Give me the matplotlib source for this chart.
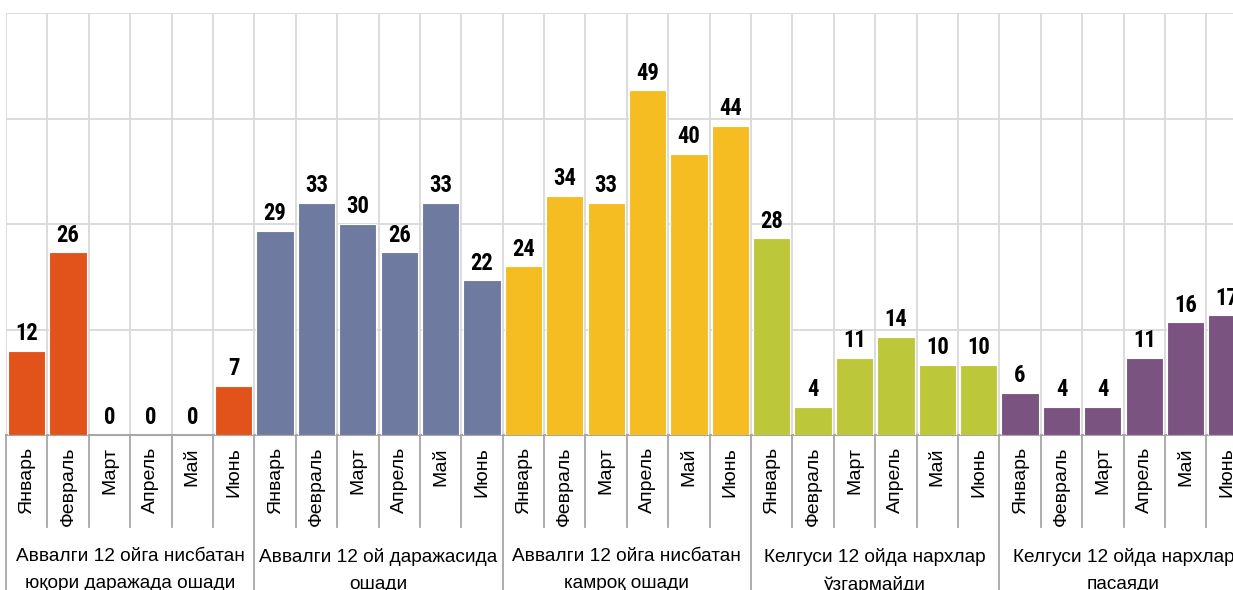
import matplotlib
matplotlib.use('Agg')
import matplotlib.pyplot as plt
from matplotlib import font_manager
import numpy as np

# Data
months = ['Январь', 'Февраль', 'Март', 'Апрель', 'Май', 'Июнь']
groups = [
    'Аввалги 12 ойга нисбатан\nюқори даражада ошади',
    'Аввалги 12 ой даражасида\nошади',
    'Аввалги 12 ойга нисбатан\nкамроқ ошади',
    'Келгуси 12 ойда нархлар\nўзгармайди',
    'Келгуси 12 ойда нархлар\nпасаяди',
]
higher = [12, 26, 0, 0, 0, 7]
same = [29, 33, 30, 26, 33, 22]
lower = [24, 34, 33, 49, 40, 44]
unchanged = [28, 4, 11, 14, 10, 10]
decrease = [6, 4, 4, 11, 16, 17]
series = [higher, same, lower, unchanged, decrease]
colors = ['#E2531B', '#6F7AA0', '#F5BD22', '#BDC73A', '#7A5380']

fonts = font_manager.fontManager.ttflist
names = {f.name for f in fonts}
base_font = 'Liberation Sans' if 'Liberation Sans' in names else 'DejaVu Sans'

# value labels use a narrow bold face when one is installed
num_font, num_stretch, num_size = base_font, 'normal', 14
for cand in ['Liberation Sans Narrow', 'Arial Narrow', 'Roboto Condensed']:
    if cand in names:
        num_font, num_size = cand, 16.3
        break
else:
    if any(f.name == 'DejaVu Sans' and f.stretch == 'condensed' for f in fonts):
        num_font, num_stretch, num_size = 'DejaVu Sans', 'condensed', 14

plt.rcParams['font.family'] = [base_font, 'DejaVu Sans']

W, H = 1233, 590
fig = plt.figure(figsize=(W / 100, H / 100), dpi=100)
cat_w = 41.39
left, top, base = 6, 13, 435
ax = fig.add_axes([left / W, (H - base) / H, (W - left) / W, (base - top) / H])

n = len(months)
for g, vals in enumerate(series):
    x = np.arange(n) + g * n + 0.5
    ax.bar(x, vals, width=0.9, color=colors[g], edgecolor='white',
           linewidth=0.8, zorder=3)
    for xi, v in zip(x, vals):
        ax.annotate(str(v), (xi, v), xytext=(0, 4), textcoords='offset points',
                    ha='center', va='bottom', fontsize=num_size,
                    fontweight='bold', fontstretch=num_stretch,
                    family=[num_font, 'DejaVu Sans'], zorder=4)

total = n * len(series)
ax.set_yticks([15, 30, 45, 60])
ax.set_xticks(np.arange(0, total + 1))
ax.set_xlim(0, (W - left) / cat_w)
ax.set_ylim(0, 60)
ax.grid(True, color='#d9d9d9', linewidth=1.3, zorder=0)
ax.tick_params(length=0, labelleft=False, labelbottom=False)
for s in ['top', 'right', 'left']:
    ax.spines[s].set_visible(False)
ax.spines['bottom'].set_color('#a6a6a6')
ax.spines['bottom'].set_linewidth(1.5)

# category axis below the chart
tr = ax.get_xaxis_transform()
ah = base - top
for i in range(total + 1):
    y_end = -0.5 if i % n == 0 else -(527 - base) / ah
    ax.plot([i, i], [0, y_end], color='#a6a6a6', linewidth=1.3,
            transform=tr, clip_on=False)
for i in range(total):
    ax.text(i + 0.5, -(447 - base) / ah, months[i % n], rotation=90,
            ha='center', va='top', fontsize=14, transform=tr)
for g, label in enumerate(groups):
    ax.text(g * n + n / 2, -(548 - base) / ah, label, ha='center', va='top',
            fontsize=13.7, linespacing=1.75, transform=tr)

fig.savefig('out.png', dpi=100)
